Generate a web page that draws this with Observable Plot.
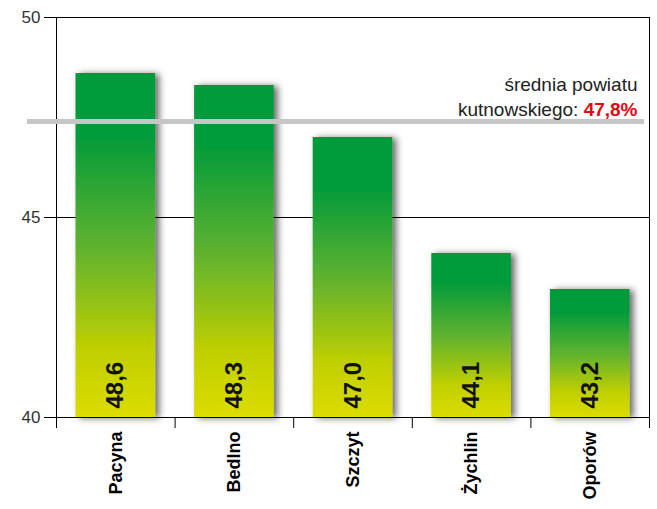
<!DOCTYPE html>
<html><head><meta charset="utf-8">
<script src="https://cdn.jsdelivr.net/npm/d3@7"></script>
<script src="https://cdn.jsdelivr.net/npm/@observablehq/plot@0.6"></script>
<style>html,body{margin:0;padding:0;background:#fff} #chart svg{display:block}</style>
</head><body><div id="chart"></div>
<script>
const categories = ["Pacyna", "Bedlno", "Szczyt", "Żychlin", "Oporów"];
const values = [48.6, 48.3, 47.0, 44.1, 43.2];
const valueLabels = ["48,6", "48,3", "47,0", "44,1", "43,2"];
const yTicks = [40, 45, 50];
const avgLinePos = 47.4;
const avgLabelLine1 = "średnia powiatu";
const avgLabelLine2 = "kutnowskiego: ";
const avgValueLabel = "47,8%";

const data = categories.map((c, i) => ({cat: c, i, value: values[i], label: valueLabels[i]}));
const font = "'Liberation Sans', Arial, Helvetica, sans-serif";
const n = categories.length;

const chart = Plot.plot({
  width: 657, height: 509,
  marginLeft: 56, marginRight: 8, marginTop: 17, marginBottom: 92,
  style: {fontFamily: font, background: "#fff", color: "#000"},
  x: {type: "linear", domain: [0, n], axis: null},
  y: {domain: [40, 50], axis: null},
  marks: [
    Plot.ruleY(yTicks, {stroke: "#000", strokeWidth: 1}),
    Plot.ruleX([0, n], {y1: 40, y2: 50, stroke: "#000", strokeWidth: 1}),
    Plot.axisY(yTicks, {tickSize: 12, tickPadding: 4, fontSize: 17, label: null, fill: "#333"}),
    Plot.axisX(d3.range(0, n + 1), {tickSize: 11, tickFormat: () => "", label: null}),
    Plot.axisX(data.map(d => d.i + 0.5), {
      tickSize: 0, tickPadding: 14, tickRotate: -90, label: null,
      tickFormat: d => categories[Math.round(d - 0.5)],
      fontSize: 18, fontWeight: "bold", fill: "#000"
    }),
    Plot.rectY(data, {x1: "i", x2: d => d.i + 1, y1: 40, y2: "value", insetLeft: 19.5, insetRight: 19.5, fill: "#00993b"}),
    Plot.ruleY([avgLinePos], {stroke: "#c6c6c6", strokeWidth: 5, insetLeft: -29, insetRight: 5}),
    Plot.text(data, {x: d => d.i + 0.5, y: 40, text: "label", rotate: -90, textAnchor: "start", dy: -9, fontSize: 24, fontWeight: "bold", fill: "#111"}),
    Plot.text([avgLabelLine1], {x: n, y: avgLinePos, text: d => d, textAnchor: "end", lineAnchor: "bottom", dx: -12, dy: -31, fontSize: 19, fill: "#222"}),
    Plot.text([avgLabelLine2 + avgValueLabel], {x: n, y: avgLinePos, text: d => d, textAnchor: "end", lineAnchor: "bottom", dx: -12, dy: -6, fontSize: 19, fill: "#222"})
  ]
});

const svgNS = "http://www.w3.org/2000/svg";
const defs = document.createElementNS(svgNS, "defs");
defs.innerHTML = `
<linearGradient id="barGrad" x1="0" y1="0" x2="0" y2="1">
  <stop offset="0" stop-color="#009a3b"/>
  <stop offset="0.18" stop-color="#029b3a"/>
  <stop offset="0.52" stop-color="#64b32e"/>
  <stop offset="0.8" stop-color="#bfcf00"/>
  <stop offset="1" stop-color="#dcdc00"/>
</linearGradient>
<filter id="barShadow" x="-30%" y="-15%" width="160%" height="130%">
  <feDropShadow dx="4" dy="1" stdDeviation="3.5" flood-color="#000" flood-opacity="0.6"/>
</filter>`;
chart.insertBefore(defs, chart.firstChild);
const rectGroup = chart.querySelector('g[aria-label="rect"]');
if (rectGroup) {
  rectGroup.setAttribute("filter", "url(#barShadow)");
  rectGroup.setAttribute("fill", "url(#barGrad)");
  rectGroup.querySelectorAll("rect").forEach(r => r.setAttribute("fill", "url(#barGrad)"));
}
chart.querySelectorAll("text").forEach(t => {
  if (t.textContent === avgLabelLine2 + avgValueLabel) {
    t.textContent = "";
    const a = document.createElementNS(svgNS, "tspan");
    a.textContent = avgLabelLine2;
    const b = document.createElementNS(svgNS, "tspan");
    b.textContent = avgValueLabel;
    b.setAttribute("fill", "#e30613");
    b.setAttribute("font-weight", "bold");
    t.appendChild(a); t.appendChild(b);
  }
});
document.getElementById("chart").appendChild(chart);
</script>
</body></html>
